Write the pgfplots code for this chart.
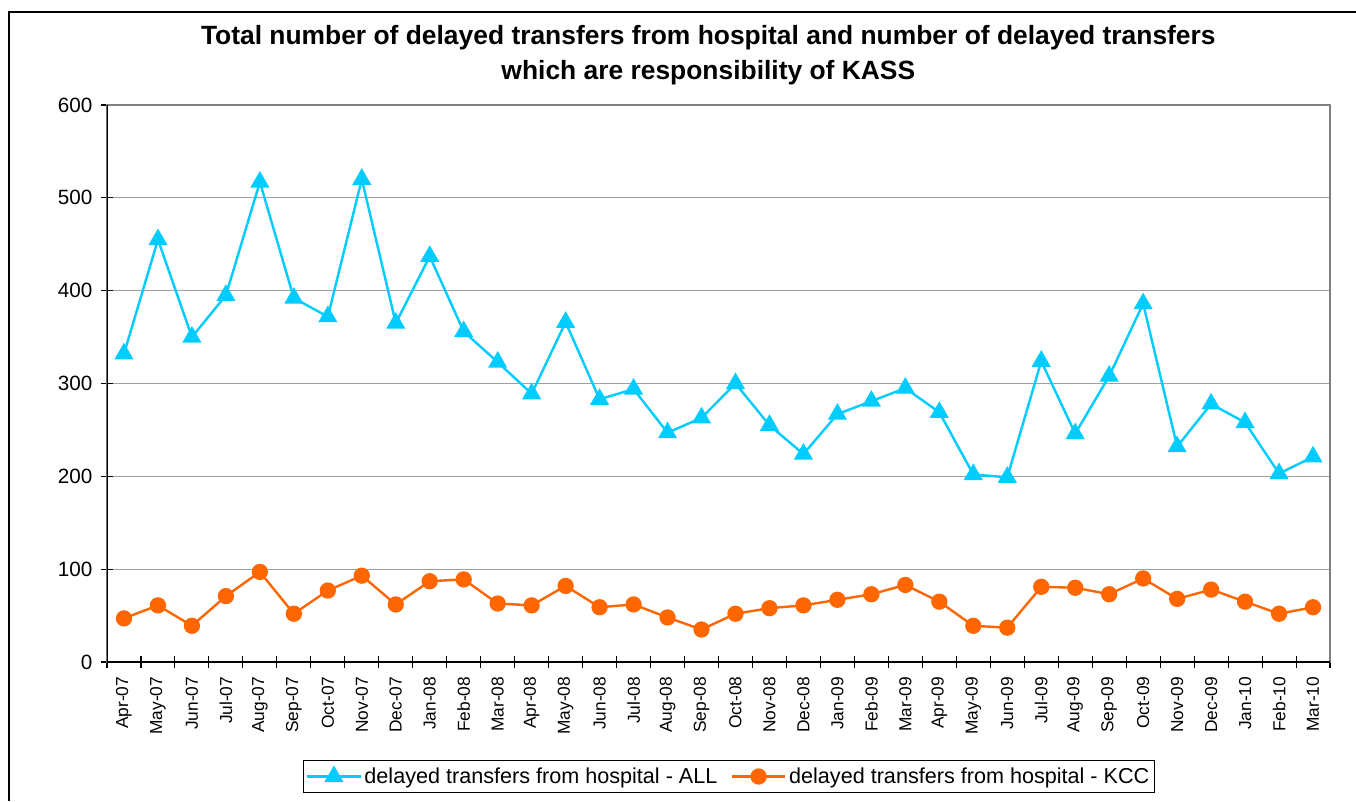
\documentclass[border=0pt]{standalone}
\usepackage{pgfplots}
\pgfplotsset{compat=1.18}
\usepackage{fontspec}
\setmainfont{Liberation Sans}

\definecolor{allcol}{RGB}{0,204,255}
\definecolor{kcccol}{RGB}{255,102,0}
\definecolor{gridcol}{RGB}{160,160,160}

\begin{document}
\begin{tikzpicture}
% canvas of the reference (1px = 0.75pt), axis box lower left at (0,0)
\path[use as bounding box] (-80.25pt,-104.25pt) rectangle (936.75pt,496.5pt);
\draw[black, line width=0.9pt] (-73.5pt,-104.25pt) -- (-73.5pt,487.5pt) -- (936.75pt,487.5pt);

\node[align=center, font=\fontsize{19.8}{26.25}\selectfont\bfseries]
  at (451pt,455pt) {Total number of delayed transfers from hospital and number of delayed transfers\\
  which are responsibility of KASS};

\begin{axis}[
  scale only axis,
  width=917.25pt, height=417.75pt,
  xmin=-0.5, xmax=35.5,
  ymin=0, ymax=600,
  ytick={0,100,...,600},
  xtick={0,...,35},
  xticklabels={Apr-07,May-07,Jun-07,Jul-07,Aug-07,Sep-07,Oct-07,Nov-07,Dec-07,Jan-08,Feb-08,Mar-08,
               Apr-08,May-08,Jun-08,Jul-08,Aug-08,Sep-08,Oct-08,Nov-08,Dec-08,Jan-09,Feb-09,Mar-09,
               Apr-09,May-09,Jun-09,Jul-09,Aug-09,Sep-09,Oct-09,Nov-09,Dec-09,Jan-10,Feb-10,Mar-10},
  minor xtick={-0.5,0.5,...,35.5},
  major x tick style={draw=none},
  tick pos=left,
  tick align=center,
  major tick length=9pt,
  minor tick length=9pt,
  tick style={black, line width=0.8pt},
  x tick label style={rotate=90, anchor=east, font=\fontsize{13}{15}\selectfont, xshift=-3pt},
  y tick label style={font=\fontsize{15.5}{18}\selectfont, xshift=-3pt},
  /pgf/number format/assume math mode=true,
  ymajorgrids=true,
  grid style={gridcol, line width=0.8pt},
  axis line style={draw=gray, line width=1.3pt},
  legend columns=2,
  legend style={at={(0.5086,-0.2056)}, anchor=center, draw=black, line width=0.6pt,
    font=\fontsize{16.2}{19}\selectfont, inner xsep=2pt, inner ysep=3.5pt,
    /tikz/every even column/.append style={column sep=8pt}},
  legend cell align=left,
  legend image code/.code={
    \draw[#1, mark repeat=2, mark phase=2] plot coordinates {(0pt,0pt) (20pt,0pt) (40pt,0pt)};
  },
]
\addplot[allcol, line width=1.8pt, mark=triangle*, mark size=6.5pt, mark options={solid}]
coordinates {
(0,332)(1,455)(2,350)(3,395)(4,517)(5,392)(6,372)(7,520)(8,365)(9,437)(10,356)(11,323)
(12,289)(13,366)(14,283)(15,294)(16,247)(17,263)(18,300)(19,255)(20,224)(21,267)(22,281)(23,295)
(24,269)(25,202)(26,199)(27,324)(28,246)(29,308)(30,386)(31,232)(32,278)(33,258)(34,203)(35,221)
};
\addlegendentry{delayed transfers from hospital - ALL}

\addplot[kcccol, line width=1.8pt, mark=*, mark size=5.2pt, mark options={solid}]
coordinates {
(0,47)(1,61)(2,39)(3,71)(4,97)(5,52)(6,77)(7,93)(8,62)(9,87)(10,89)(11,63)
(12,61)(13,82)(14,59)(15,62)(16,48)(17,35)(18,52)(19,58)(20,61)(21,67)(22,73)(23,83)
(24,65)(25,39)(26,37)(27,81)(28,80)(29,73)(30,90)(31,68)(32,78)(33,65)(34,52)(35,59)
};
\addlegendentry{delayed transfers from hospital - KCC}

\draw[black, line width=1.3pt] (rel axis cs:0,1) -- (rel axis cs:0,0) -- (rel axis cs:1,0);
\end{axis}
\end{tikzpicture}
\end{document}
